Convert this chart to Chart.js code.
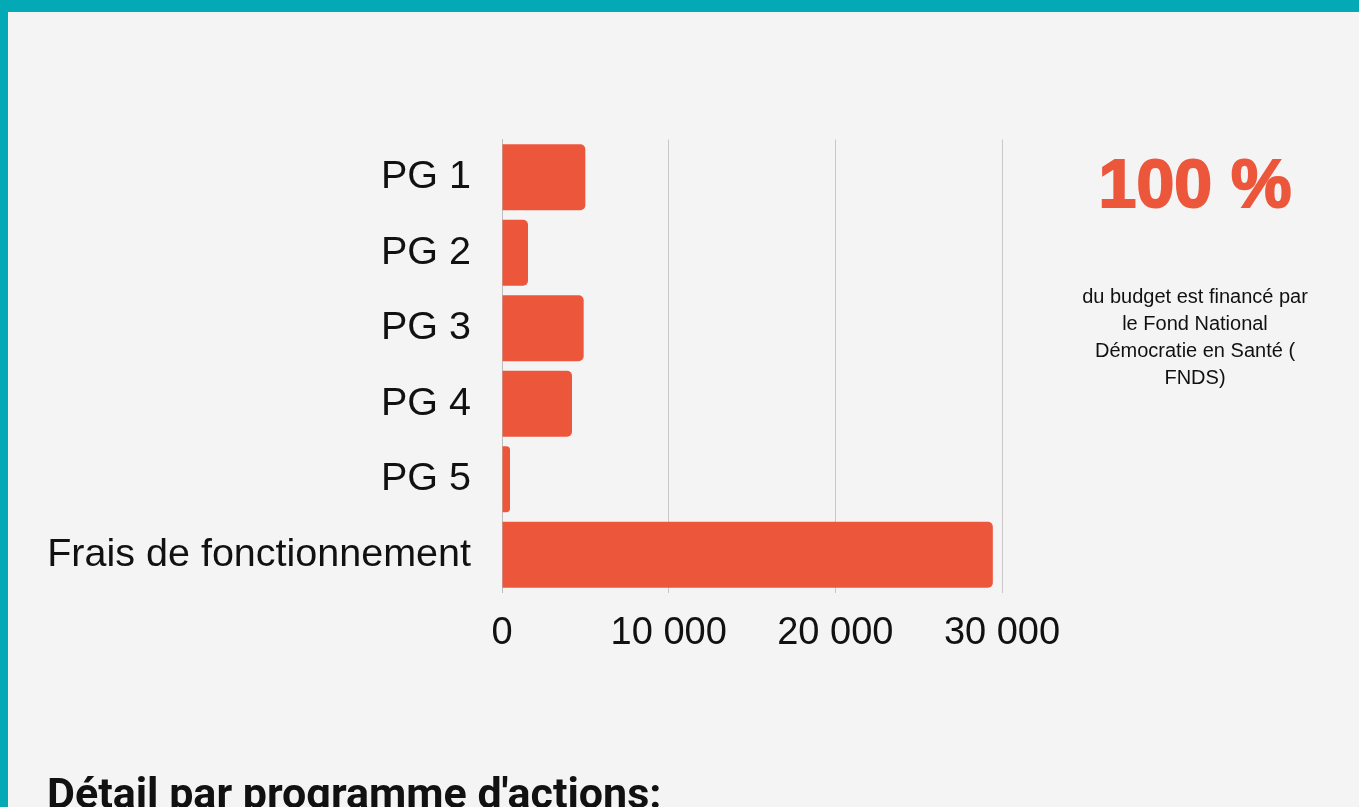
<!DOCTYPE html>
<html>
<head>
<meta charset="utf-8">
<script src="https://cdn.jsdelivr.net/npm/chart.js@4"></script>
<style>
  html, body { margin:0; padding:0; }
  body { width:1359px; height:807px; background:#03A9B5; position:relative; overflow:hidden; font-family:"Liberation Sans", Arial, sans-serif; }
  #panel { position:absolute; left:8px; top:12px; right:0; bottom:0; background:#F4F4F4; }
  #chartBox { position:absolute; left:0; top:0; width:1359px; height:807px; }
  #big { position:absolute; left:1060px; width:270px; top:140px; text-align:center; color:#EC573B; font-weight:bold; font-size:68px; line-height:86px; -webkit-text-stroke:2px #EC573B; letter-spacing:0px; }
  #note { position:absolute; left:1060px; width:270px; top:283px; text-align:center; color:#111; font-size:20px; line-height:27px; }
  #title { position:absolute; left:47px; top:772px; font-family:Roboto, sans-serif; font-weight:700; font-size:43px; line-height:43px; color:#111; white-space:nowrap; }
</style>
</head>
<body>
<div id="panel"></div>
<div id="chartBox"><canvas id="c" width="1359" height="807"></canvas></div>
<div id="big">100 %</div>
<div id="note">du budget est financé par<br>le Fond National<br>Démocratie en Santé (<br>FNDS)</div>
<div id="title">Détail par programme d'actions:</div>
<script>
const categories = ["PG 1", "PG 2", "PG 3", "PG 4", "PG 5", "Frais de fonctionnement"];
const budgetValues = [5000, 1560, 4900, 4200, 480, 29450];
const xTicks = [0, 10000, 20000, 30000];

function fmt(v) {
  return String(v).replace(/\B(?=(\d{3})+(?!\d))/g, " ");
}

new Chart(document.getElementById("c"), {
  type: "bar",
  data: {
    labels: categories,
    datasets: [{
      data: budgetValues,
      backgroundColor: "#EC573B",
      borderRadius: 5,
      borderSkipped: "start",
      barPercentage: 0.875,
      categoryPercentage: 1
    }]
  },
  options: {
    indexAxis: "y",
    responsive: false,
    animation: false,
    layout: { padding: { left: 0, top: 139.5, right: 357, bottom: 154.5 } },
    plugins: { legend: { display: false }, tooltip: { enabled: false } },
    scales: {
      x: {
        min: 0, max: 30000,
        afterBuildTicks: (s) => { s.ticks = xTicks.map(v => ({ value: v })); },
        afterFit: (s) => { s.height = 60; },
        grid: { color: "#C8C8C8", lineWidth: 1, drawTicks: false },
        border: { display: false },
        ticks: {
          padding: 18,
          color: "#111",
          font: { family: "'Liberation Sans', Arial, sans-serif", size: 38 },
          callback: (v) => fmt(v),
          maxRotation: 0
        }
      },
      y: {
        afterFit: (s) => { s.width = 502; },
        grid: { display: false, drawTicks: false },
        border: { display: true, color: "#BDBDBD", width: 1 },
        ticks: {
          padding: 31,
          color: "#111",
          font: { family: "'Liberation Sans', Arial, sans-serif", size: 39.5 }
        }
      }
    }
  }
});
</script>
</body>
</html>
